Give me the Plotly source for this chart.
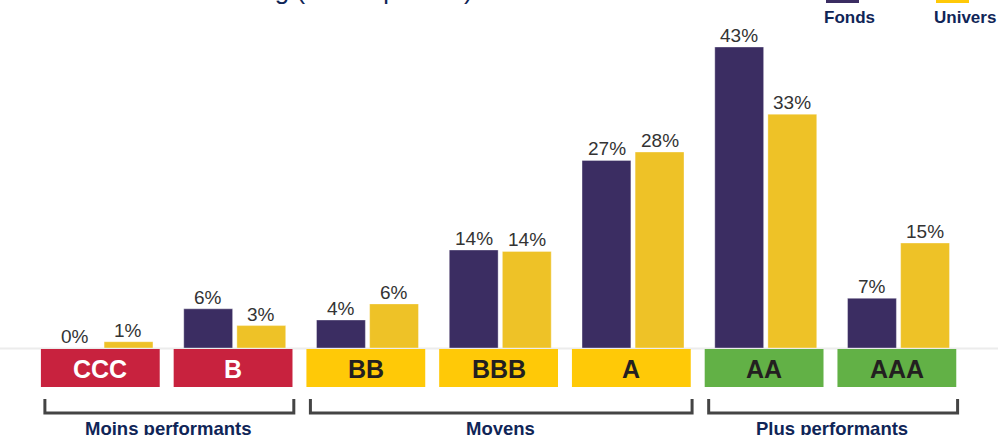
import plotly.graph_objects as go

# ---- data ----
categories = ["CCC", "B", "BB", "BBB", "A", "AA", "AAA"]
fonds = [0.0, 5.6, 4.0, 14.0, 26.8, 43.0, 7.1]
univers = [0.9, 3.2, 6.3, 13.8, 28.0, 33.4, 15.0]
fonds_labels = ["0%", "6%", "4%", "14%", "27%", "43%", "7%"]
univers_labels = ["1%", "3%", "6%", "14%", "28%", "33%", "15%"]
series_names = ["Fonds", "Univers"]
groups = [("Moins performants", "CCC", "B"), ("Moyens", "BB", "A"), ("Plus performants", "AA", "AAA")]
title_text = "Ventilation rating (hors liquidités)"

# ---- styling ----
W, H = 998, 435
PURPLE = "#3B2D62"
YELLOW = "#EEC227"
BOX_COLORS = {"CCC": "#C8223E", "B": "#C8223E", "BB": "#FFC907", "BBB": "#FFC907",
              "A": "#FFC907", "AA": "#62B146", "AAA": "#62B146"}
BOX_TEXT = {"CCC": "white", "B": "white"}
NAVY = "#0F2557"
FONT = "Liberation Sans, Arial, sans-serif"


def px(x):
    return x / W


def py(y):
    return 1 - y / H


fig = go.Figure()
for vals, name, col in [(fonds, series_names[0], PURPLE), (univers, series_names[1], YELLOW)]:
    fig.add_trace(go.Bar(x=categories, y=vals, name=name, marker_color=col,
                         marker_line=dict(color="rgba(255,255,255,0.35)", width=1)))

shapes = []
annotations = []

# value labels (placed at each bar's value through the axes)
for vals, labels, shift in [(fonds, fonds_labels, -26.5), (univers, univers_labels, 26.5)]:
    for c, v, t in zip(categories, vals, labels):
        annotations.append(dict(text=t, x=c, y=v, xref="x", yref="y", xshift=shift, yshift=-1,
                                showarrow=False, xanchor="center", yanchor="bottom",
                                font=dict(size=19, color="#333333", family=FONT)))

# baseline
shapes.append(dict(type="line", xref="paper", yref="paper", x0=0, x1=1, y0=py(348.5), y1=py(348.5),
                   line=dict(color="#ECECEC", width=2), layer="below"))

# category boxes
for i, c in enumerate(categories):
    shapes.append(dict(type="rect", xref="x", yref="paper", x0=i - 0.46, x1=i + 0.435,
                       y0=py(387), y1=py(349), fillcolor=BOX_COLORS[c], line=dict(width=0)))
    annotations.append(dict(text="<b>%s</b>" % c, x=i - 0.0125, xref="x", y=py(369), yref="paper",
                            showarrow=False, xanchor="center", yanchor="middle",
                            font=dict(size=25, color=BOX_TEXT.get(c, "#231F20"), family=FONT)))

# group brackets
for label, a, b in groups:
    ia, ib = categories.index(a), categories.index(b)
    shapes.append(dict(type="path", xref="x", yref="paper",
                       path="M %f,%f L %f,%f L %f,%f L %f,%f" % (
                           ia - 0.43, py(399), ia - 0.43, py(413), ib + 0.445, py(413), ib + 0.445, py(399)),
                       line=dict(color="#444444", width=3)))
    annotations.append(dict(text="<b>%s</b>" % label, x=(ia + ib) / 2, xref="x", y=py(428), yref="paper",
                            showarrow=False, xanchor="center", yanchor="middle",
                            font=dict(size=18.5, color=NAVY, family=FONT)))

# legend (manual)
for name, col, x0, x1, tx in [(series_names[0], PURPLE, 826, 859, 849), (series_names[1], "#FFC907", 936, 969, 965)]:
    shapes.append(dict(type="rect", xref="paper", yref="paper", x0=px(x0), x1=px(x1),
                       y0=py(3), y1=py(-20), fillcolor=col, line=dict(width=0)))
    annotations.append(dict(text="<b>%s</b>" % name, x=px(tx), xref="paper", y=py(18), yref="paper",
                            showarrow=False, xanchor="center", yanchor="middle",
                            font=dict(size=17, color=NAVY, family=FONT)))

# title (cut at top)
annotations.append(dict(text=title_text, x=px(475), xref="paper", y=py(7), yref="paper",
                        showarrow=False, xanchor="right", yanchor="bottom",
                        font=dict(size=26, color=NAVY, family=FONT)))

fig.update_layout(
    width=W, height=H,
    margin=dict(l=0, r=0, t=0, b=0),
    paper_bgcolor="white", plot_bgcolor="white",
    barmode="group", bargap=0.2, bargroupgap=0.08,
    showlegend=False,
    xaxis=dict(domain=[px(35.6), px(964.9)], range=[-0.5, 6.5], visible=False),
    yaxis=dict(domain=[py(348), 1], range=[0, 348 / 7], visible=False),
    shapes=shapes, annotations=annotations,
    font=dict(family=FONT),
)

fig.write_html("out.html", config={"displayModeBar": False},
               post_script="document.body.style.margin='0';document.body.style.overflow='hidden';")
